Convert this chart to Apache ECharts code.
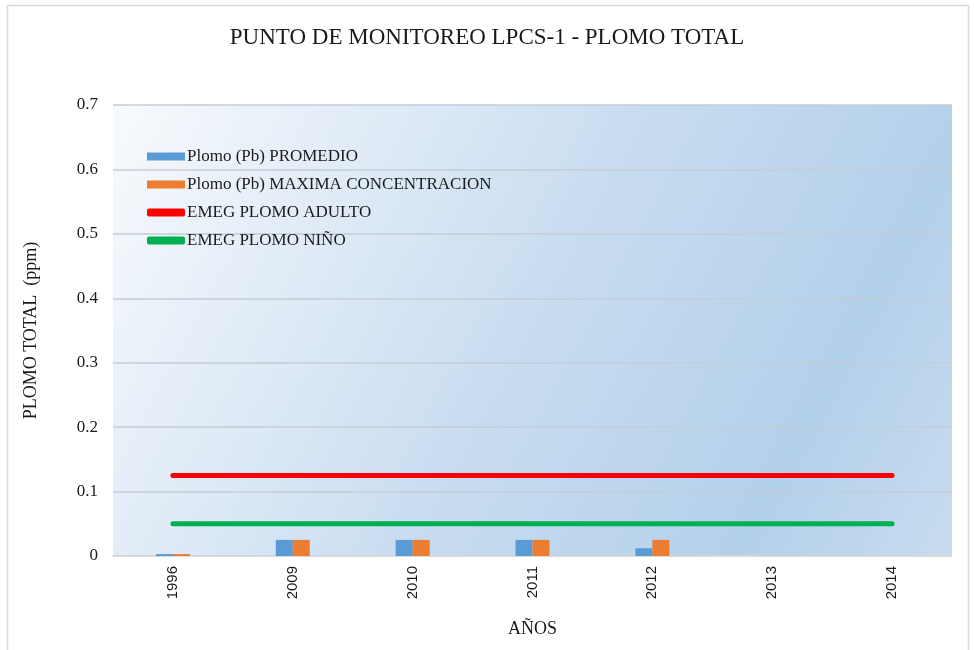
<!DOCTYPE html>
<html>
<head>
<meta charset="utf-8">
<script src="https://cdn.jsdelivr.net/npm/echarts@6/dist/echarts.min.js"></script>
<style>
  html, body { margin: 0; padding: 0; background: #fff; }
  #chart { width: 974px; height: 650px; }
</style>
</head>
<body>
<div id="chart"></div>
<script>
// Données
const annees = ["1996", "2009", "2010", "2011", "2012", "2013", "2014"];
const promedio = [0.003, 0.025, 0.025, 0.025, 0.012, 0, 0];
const maxima = [0.003, 0.025, 0.025, 0.025, 0.025, 0, 0];
const emegAdulto = [0.125, 0.125, 0.125, 0.125, 0.125, 0.125, 0.125];
const emegNino = [0.05, 0.05, 0.05, 0.05, 0.05, 0.05, 0.05];

const police = "'Liberation Serif', 'Times New Roman', serif";

const chart = echarts.init(document.getElementById("chart"));
const option = {
    backgroundColor: "#fff",
    textStyle: { fontFamily: police },
    graphic: [{
        type: "rect",
        shape: { x: 7.5, y: 5.5, width: 961, height: 660 },
        style: { fill: "none", stroke: "#d9d9d9", lineWidth: 1.5 },
        silent: true
    }],
    title: {
        text: "PUNTO DE MONITOREO LPCS-1 - PLOMO TOTAL",
        left: "center",
        top: 21,
        textStyle: { fontFamily: police, fontWeight: "normal", fontSize: 23, color: "#1a1a1a" }
    },
    legend: {
        orient: "vertical",
        left: 142,
        top: 143,
        itemGap: 11,
        itemWidth: 38,
        itemHeight: 8,
        textStyle: { fontFamily: police, fontSize: 17, color: "#1a1a1a", padding: [0, 0, 0, -3] },
        data: [
            { name: "Plomo (Pb) PROMEDIO", icon: "rect" },
            { name: "Plomo (Pb) MAXIMA CONCENTRACION", icon: "rect" },
            { name: "EMEG PLOMO ADULTO", icon: "roundRect", itemStyle: { color: "#ff0000" } },
            { name: "EMEG PLOMO NIÑO", icon: "roundRect", itemStyle: { color: "#00b050" } }
        ]
    },
    grid: {
        left: 113, right: 22, top: 105, bottom: 94,
        show: true,
        borderWidth: 0,
        backgroundColor: new echarts.graphic.LinearGradient(0, 0, 1, 1, [
            { offset: 0, color: "#f8fafd" },
            { offset: 0.5, color: "#c8dcf0" },
            { offset: 0.8, color: "#b3d0ea" },
            { offset: 1, color: "#c8dcf0" }
        ])
    },
    xAxis: {
        type: "category",
        data: annees,
        name: "AÑOS",
        nameLocation: "middle",
        nameGap: 64,
        nameTextStyle: { fontFamily: police, fontSize: 18, color: "#1a1a1a" },
        axisLine: { lineStyle: { color: "#d9d9d9", width: 1.5 } },
        axisTick: { show: false },
        axisLabel: { rotate: 90, fontFamily: "'Liberation Sans', Arial, sans-serif", fontSize: 15, color: "#1a1a1a", margin: 10 }
    },
    yAxis: {
        type: "value",
        min: 0,
        max: 0.7,
        interval: 0.1,
        name: "PLOMO TOTAL  (ppm)",
        nameLocation: "middle",
        nameGap: 73,
        nameTextStyle: { fontFamily: police, fontSize: 18, color: "#1a1a1a" },
        axisLine: { show: false },
        axisTick: { show: false },
        axisLabel: {
            fontFamily: police, fontSize: 17, color: "#1a1a1a", margin: 15,
            formatter: v => (v === 0 ? "0" : v.toFixed(1))
        },
        splitLine: { lineStyle: { color: "#c5ccd6", width: 1.5 } }
    },
    series: [
        {
            name: "Plomo (Pb) PROMEDIO",
            type: "bar",
            data: promedio,
            barWidth: 17,
            barGap: "0%",
            itemStyle: { color: "#5b9bd5" }
        },
        {
            name: "Plomo (Pb) MAXIMA CONCENTRACION",
            type: "bar",
            data: maxima,
            barWidth: 17,
            barGap: "0%",
            itemStyle: { color: "#ed7d31" }
        },
        {
            name: "EMEG PLOMO ADULTO",
            type: "line",
            data: emegAdulto,
            symbol: "none",
            lineStyle: { color: "#ff0000", width: 5, cap: "round" },
            itemStyle: { color: "#ff0000" }
        },
        {
            name: "EMEG PLOMO NIÑO",
            type: "line",
            data: emegNino,
            symbol: "none",
            lineStyle: { color: "#00b050", width: 5, cap: "round" },
            itemStyle: { color: "#00b050" }
        }
    ]
};
chart.setOption(option);
</script>
</body>
</html>
